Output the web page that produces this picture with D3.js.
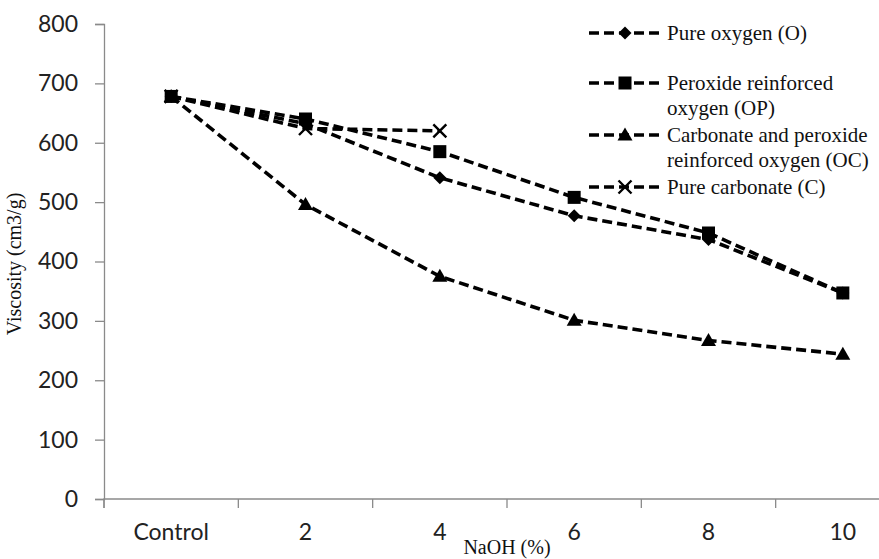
<!DOCTYPE html>
<html>
<head>
<meta charset="utf-8">
<script src="https://cdn.jsdelivr.net/npm/d3@7/dist/d3.min.js"></script>
<style>
  html, body { margin: 0; padding: 0; background: #ffffff; }
  svg { display: block; }
</style>
</head>
<body>
<svg id="chart" width="879" height="559"></svg>
<script>
// ---- data ----
const categories = ["Control", "2", "4", "6", "8", "10"];
const pureOxygen = [678, 632, 541, 477, 437, 347];
const peroxideOxygen = [678, 640, 585, 508, 448, 347];
const carbonatePeroxideOxygen = [678, 496, 375, 301, 267, 244];
const pureCarbonate = [678, 624, 620];
const yTicks = [0, 100, 200, 300, 400, 500, 600, 700, 800];
const seriesNames = ["Pure oxygen (O)", "Peroxide reinforced oxygen (OP)", "Carbonate and peroxide reinforced oxygen (OC)", "Pure carbonate (C)"];
const legendLines = [["Pure oxygen (O)"], ["Peroxide reinforced", "oxygen (OP)"], ["Carbonate and peroxide", "reinforced oxygen (OC)"], ["Pure carbonate (C)"]];

const series = [
  { name: seriesNames[0], values: pureOxygen, marker: "diamond" },
  { name: seriesNames[1], values: peroxideOxygen, marker: "square" },
  { name: seriesNames[2], values: carbonatePeroxideOxygen, marker: "triangle" },
  { name: seriesNames[3], values: pureCarbonate, marker: "cross" }
];

const svg = d3.select("#chart");
const mLeft = 104, mTop = 24, mBottom = 499, mRight = 910;

const x = d3.scaleBand().domain(categories).range([mLeft, mRight]).paddingInner(0).paddingOuter(0);
const y = d3.scaleLinear().domain([0, 800]).range([mBottom, mTop]);

const axisColor = "#8a8a8a";
const tickFont = "Lato, 'Open Sans', sans-serif";
const serif = "'Liberation Serif', 'Times New Roman', serif";

// y axis
const gy = svg.append("g").attr("transform", `translate(${mLeft},0)`)
  .call(d3.axisLeft(y).tickValues(yTicks).tickSize(9).tickPadding(17).tickFormat(d3.format("d")));
gy.selectAll("path, line").attr("stroke", axisColor).attr("stroke-width", 1.3);
gy.selectAll("text").attr("font-family", tickFont).attr("font-size", 23).attr("fill", "#222");

// x axis
const xTickAxis = d3.axisBottom(x).tickSize(9).tickPadding(16);
const gx = svg.append("g").attr("transform", `translate(0,${mBottom})`).call(xTickAxis);
gx.select(".domain").attr("d", `M${mLeft},9V0H${mRight}`);
gx.selectAll(".tick line").attr("transform", `translate(${-x.bandwidth() / 2},0)`);
gx.selectAll("path, line").attr("stroke", axisColor).attr("stroke-width", 1.3);
gx.selectAll("text").attr("font-family", tickFont).attr("font-size", 23).attr("fill", "#222");

// axis titles
svg.append("text").attr("x", 507).attr("y", 554)
  .attr("text-anchor", "middle").attr("font-family", serif).attr("font-size", 20)
  .attr("fill", "#111").text("NaOH (%)");
svg.append("text").attr("transform", "translate(21,264) rotate(-90)")
  .attr("text-anchor", "middle").attr("font-family", serif).attr("font-size", 20)
  .attr("fill", "#111").text("Viscosity (cm3/g)");

// markers
function drawMarker(g, type, cx, cy) {
  if (type === "square") {
    g.append("rect").attr("x", cx - 6.5).attr("y", cy - 6.5).attr("width", 13).attr("height", 13).attr("fill", "#000");
  } else if (type === "diamond") {
    g.append("path").attr("d", `M${cx},${cy - 6.5}L${cx + 6.5},${cy}L${cx},${cy + 6.5}L${cx - 6.5},${cy}Z`).attr("fill", "#000");
  } else if (type === "triangle") {
    g.append("path").attr("d", `M${cx},${cy - 7.5}L${cx + 7.5},${cy + 5.5}L${cx - 7.5},${cy + 5.5}Z`).attr("fill", "#000");
  } else if (type === "cross") {
    g.append("path").attr("d", `M${cx - 6.5},${cy - 6.5}L${cx + 6.5},${cy + 6.5}M${cx + 6.5},${cy - 6.5}L${cx - 6.5},${cy + 6.5}`)
      .attr("stroke", "#000").attr("stroke-width", 2.4).attr("fill", "none");
  }
}

const line = d3.line()
  .x((d, i) => x(categories[i]) + x.bandwidth() / 2)
  .y(d => y(d));

const plot = svg.append("g");
series.forEach(s => {
  plot.append("path").datum(s.values).attr("d", line)
    .attr("fill", "none").attr("stroke", "#000").attr("stroke-width", 3.6)
    .attr("stroke-dasharray", "10,5");
});
series.forEach(s => {
  const g = plot.append("g");
  s.values.forEach((v, i) => drawMarker(g, s.marker, x(categories[i]) + x.bandwidth() / 2, y(v)));
});

// legend
const legendY = [33, 83, 135, 187];
const legend = svg.append("g");
series.forEach((s, i) => {
  const ly = legendY[i];
  legend.append("line").attr("x1", 589).attr("x2", 660).attr("y1", ly).attr("y2", ly)
    .attr("stroke", "#000").attr("stroke-width", 3.6).attr("stroke-dasharray", "10,5");
  drawMarker(legend, s.marker, 625, ly);
  legendLines[i].forEach((t, j) => {
    legend.append("text").attr("x", 667).attr("y", ly + 7 + j * 25)
      .attr("font-family", serif).attr("font-size", 21).attr("fill", "#111").text(t);
  });
});
</script>
</body>
</html>
